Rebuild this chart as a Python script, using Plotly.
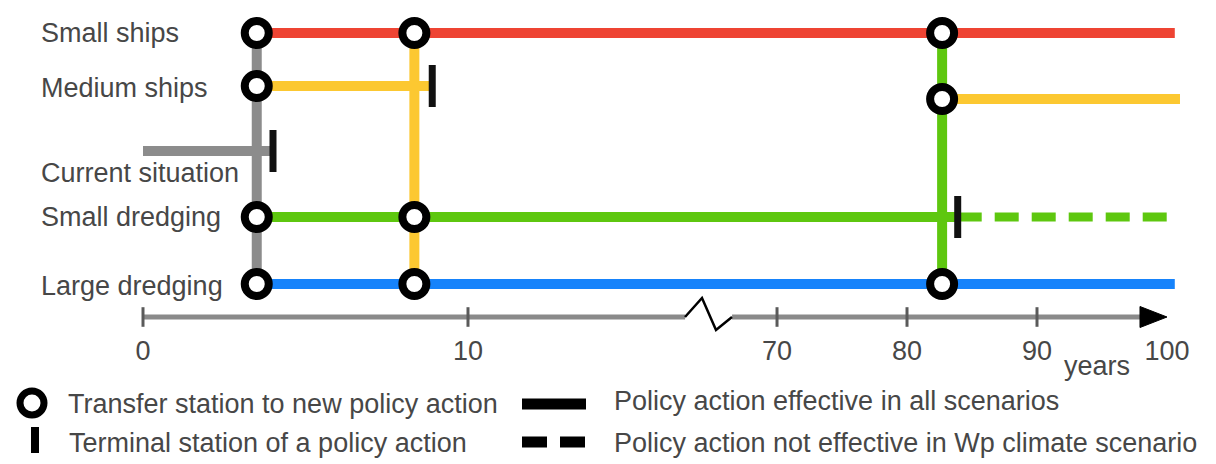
import plotly.graph_objects as go

# ---------------- data ----------------
level_names = ["Small ships", "Medium ships", "Medium ships (later)", "Current situation",
               "Small dredging", "Large dredging"]
level_values = [28.4, 23.1, 21.8, 16.6, 10.0, 3.3]
LEVEL = dict(zip(level_names, level_values))

label_rows = ["Small ships", "Medium ships", "Current situation", "Small dredging", "Large dredging"]
label_shift = [0, -2, -22, 0, -2]

action_names = ["Current situation", "Small ships", "Medium ships", "Small dredging", "Large dredging"]
action_colors = ["#8C8C8C", "#EE4433", "#FCC831", "#5EC70F", "#1683FB"]
COLOR = dict(zip(action_names, action_colors))

# horizontal pathway segments
seg_action = ["Current situation", "Small ships", "Medium ships", "Medium ships",
              "Small dredging", "Small dredging", "Large dredging"]
seg_level = ["Current situation", "Small ships", "Medium ships", "Medium ships (later)",
             "Small dredging", "Small dredging", "Large dredging"]
seg_start = [0.0, 3.5, 3.5, 82.7, 3.5, 83.9, 3.5]
seg_end = [4.0, 100.6, 8.9, 101.0, 83.9, 100.6, 100.6]
seg_all_scenarios = [True, True, True, True, True, False, True]

# vertical transfer links
tr_action = ["Current situation", "Medium ships", "Small dredging"]
tr_year = [3.5, 8.35, 82.7]
tr_top = ["Small ships", "Small ships", "Small ships"]
tr_bottom = ["Large dredging", "Large dredging", "Large dredging"]

# transfer stations
st_level = ["Small ships", "Small ships", "Small ships",
            "Medium ships", "Medium ships (later)",
            "Small dredging", "Small dredging",
            "Large dredging", "Large dredging", "Large dredging"]
st_year = [3.5, 8.35, 82.7, 3.5, 82.7, 3.5, 8.35, 3.5, 8.35, 82.7]

# terminal stations
term_level = ["Current situation", "Medium ships", "Small dredging"]
term_year = [4.0, 8.9, 83.9]

# axis
tick_vals_1 = [0, 10]
tick_vals_2 = [70, 80, 90, 100]
tick_marks_1 = [0, 10]
tick_marks_2 = [70, 80, 90]
axis_break = [16.68, 66.54]   # axis line interrupted between these years
axis_label = "years"

legend_texts = ["Transfer station to new policy action", "Terminal station of a policy action",
                "Policy action effective in all scenarios",
                "Policy action not effective in Wp climate scenario"]

# ---------------- layout constants ----------------
OFF = 8                      # page body margin of the browser
W_FIG, H_FIG = 1216 - OFF, 464 - OFF
L, R, T, B = 143, 1190, 10, 332          # plot area in page pixels
PW, PH = R - L, B - T
SEG1_RANGE = [0, 17.385]
SEG2_RANGE = [64.69, 101.77]
DOM_SPLIT = (708 - L) / PW
FONT = "Liberation Sans, Arial, sans-serif"
TXT = "#474747"


def pxx(px):
    return (px - L) / PW


def pxy(py):
    return (B - py) / PH


fig = go.Figure()


def add_line(x0, x1, y0, y1, color, width, dash="solid"):
    parts = []
    if x0 <= SEG1_RANGE[1]:
        parts.append(("x", [x0, min(x1, SEG1_RANGE[1])]))
    if x1 >= SEG2_RANGE[0]:
        parts.append(("x2", [max(x0, SEG2_RANGE[0]), x1]))
    for ax, xs in parts:
        fig.add_trace(go.Scatter(x=xs, y=[y0, y1], xaxis=ax, yaxis="y",
                                 mode="lines", line=dict(color=color, width=width, dash=dash),
                                 hoverinfo="skip", showlegend=False))


def axis_of(x):
    return "x" if x <= SEG1_RANGE[1] else "x2"


# vertical transfer lines
for a, yr, top, bot in zip(tr_action, tr_year, tr_top, tr_bottom):
    fig.add_trace(go.Scatter(x=[yr, yr], y=[LEVEL[top], LEVEL[bot]], xaxis=axis_of(yr), yaxis="y",
                             mode="lines", line=dict(color=COLOR[a], width=10),
                             hoverinfo="skip", showlegend=False))

# horizontal segments
for a, lv, s, e, ok in zip(seg_action, seg_level, seg_start, seg_end, seg_all_scenarios):
    add_line(s, e, LEVEL[lv], LEVEL[lv], COLOR[a], 10 if ok else 9,
             "solid" if ok else "24px,13px")

# terminal stations
for ax in ["x", "x2"]:
    xs = [yr for yr in term_year if axis_of(yr) == ax]
    ys = [LEVEL[lv] for lv, yr in zip(term_level, term_year) if axis_of(yr) == ax]
    fig.add_trace(go.Scatter(x=xs, y=ys, xaxis=ax, yaxis="y", mode="markers",
                             marker=dict(symbol="line-ns-open", size=30, color="#111111",
                                         line=dict(color="#111111", width=7)),
                             hoverinfo="skip", showlegend=False, cliponaxis=False))

# transfer stations
for ax in ["x", "x2"]:
    xs = [yr for yr in st_year if axis_of(yr) == ax]
    ys = [LEVEL[lv] for lv, yr in zip(st_level, st_year) if axis_of(yr) == ax]
    fig.add_trace(go.Scatter(x=xs, y=ys, xaxis=ax, yaxis="y", mode="markers",
                             marker=dict(symbol="circle", size=24, color="white",
                                         line=dict(color="black", width=8)),
                             hoverinfo="skip", showlegend=False, cliponaxis=False))

# axis tick marks
for ax, tv in [("x", tick_marks_1), ("x2", tick_marks_2)]:
    fig.add_trace(go.Scatter(x=tv, y=[0] * len(tv), xaxis=ax, yaxis="y", mode="markers",
                             marker=dict(symbol="line-ns-open", size=14, color="#5A5A5A",
                                         line=dict(color="#5A5A5A", width=3)),
                             hoverinfo="skip", showlegend=False, cliponaxis=False))

shapes = []
AX_GRAY = "#8A8A8A"
shapes.append(dict(type="line", xref="x", yref="y", x0=0, x1=axis_break[0], y0=0, y1=0,
                   line=dict(color=AX_GRAY, width=5), layer="below"))
shapes.append(dict(type="line", xref="x2", yref="y", x0=axis_break[1], x1=98.0, y0=0, y1=0,
                   line=dict(color=AX_GRAY, width=5), layer="below"))
# zig-zag break symbol
shapes.append(dict(type="path", xref="paper", yref="paper", xsizemode="pixel", ysizemode="pixel",
                   xanchor=pxx(685), yanchor=pxy(317),
                   path="M 0,0 L 17,19 L 31,-13 L 47,0",
                   line=dict(color="black", width=2.5)))
# arrow head
shapes.append(dict(type="path", xref="x2", yref="y", xsizemode="pixel", ysizemode="pixel",
                   xanchor=100, yanchor=0,
                   path="M -27,-10.5 L 0,0 L -27,10.5 Z",
                   fillcolor="black", line=dict(color="black", width=1)))

# legend symbols
shapes.append(dict(type="circle", xref="paper", yref="paper", xsizemode="pixel", ysizemode="pixel",
                   xanchor=pxx(32), yanchor=pxy(403), x0=-12, x1=12, y0=-12, y1=12,
                   fillcolor="white", line=dict(color="black", width=7)))
shapes.append(dict(type="line", xref="paper", yref="paper", xsizemode="pixel", ysizemode="pixel",
                   xanchor=pxx(35), yanchor=pxy(440), x0=0, x1=0, y0=-13, y1=13,
                   line=dict(color="black", width=8)))
shapes.append(dict(type="line", xref="paper", yref="paper", x0=pxx(522), x1=pxx(586),
                   y0=pxy(404), y1=pxy(404), line=dict(color="black", width=11)))
shapes.append(dict(type="line", xref="paper", yref="paper", x0=pxx(522), x1=pxx(586),
                   y0=pxy(442), y1=pxy(442), line=dict(color="black", width=11, dash="25px,13px")))

annotations = []
for name, sh in zip(label_rows, label_shift):
    annotations.append(dict(text=name, xref="paper", yref="y", x=pxx(39), y=LEVEL[name],
                            yshift=sh, xanchor="left", yanchor="middle", showarrow=False,
                            font=dict(family=FONT, size=27, color=TXT)))
annotations.append(dict(text=axis_label, xref="x2", yref="paper", x=94.6, y=pxy(366),
                        xanchor="center", yanchor="middle", showarrow=False,
                        font=dict(family=FONT, size=27, color=TXT)))
leg_pos = [(66, 404), (67, 443), (612, 401), (612, 443)]
for txt, (lx, ly) in zip(legend_texts, leg_pos):
    annotations.append(dict(text=txt, xref="paper", yref="paper", x=pxx(lx), y=pxy(ly),
                            xanchor="left", yanchor="middle", showarrow=False,
                            font=dict(family=FONT, size=27, color=TXT)))

axis_common = dict(showgrid=False, zeroline=False, showline=False, ticks="",
                   tickfont=dict(family=FONT, size=27, color=TXT), fixedrange=True)

fig.update_layout(
    width=W_FIG, height=H_FIG,
    margin=dict(l=L - OFF, r=W_FIG - (R - OFF), t=T - OFF, b=H_FIG - (B - OFF), pad=0),
    paper_bgcolor="white", plot_bgcolor="white",
    showlegend=False, hovermode=False,
    xaxis=dict(domain=[0, DOM_SPLIT], range=SEG1_RANGE, anchor="y",
               tickmode="array", tickvals=tick_vals_1, ticktext=[str(v) for v in tick_vals_1],
               **axis_common),
    xaxis2=dict(domain=[DOM_SPLIT, 1], range=SEG2_RANGE, anchor="y",
                tickmode="array", tickvals=tick_vals_2, ticktext=[str(v) for v in tick_vals_2],
                **axis_common),
    yaxis=dict(domain=[0, 1], range=[-1.5, 30.7], anchor="x", visible=False, fixedrange=True),
    shapes=shapes,
    annotations=annotations,
)

fig.write_html("out.html")
